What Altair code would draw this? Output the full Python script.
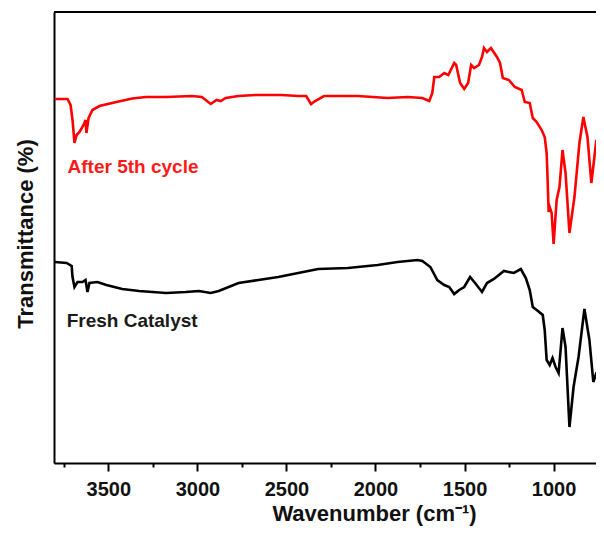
import altair as alt
import pandas as pd

# After 5th cycle (red)
red_wn = [3800, 3729, 3712, 3701, 3690, 3678, 3662, 3639, 3628, 3623, 3611, 3589, 3550, 3455, 3366,
          3288, 3176, 3031, 2975, 2925, 2892, 2869, 2841, 2769, 2674, 2529, 2434, 2389, 2362, 2339,
          2289, 2099, 1932, 1820, 1737, 1698, 1681, 1670, 1642, 1614, 1591, 1558, 1547, 1525, 1502,
          1480, 1463, 1446, 1419, 1402, 1391, 1374, 1352, 1318, 1301, 1285, 1251, 1218, 1179, 1162,
          1134, 1117, 1095, 1067, 1050, 1039, 1033, 1028, 1022, 1011, 1000, 983, 967, 950, 933,
          911, 883, 855, 833, 810, 788, 771, 760, 749, 738]
red_t = [364, 364, 358, 343, 320, 328, 331, 338, 343, 330, 345, 353, 357, 361, 364.5,
         366, 366, 367, 366, 359, 363, 362, 365, 367, 368, 368, 367, 367, 359, 362,
         367, 367, 365, 366, 365, 362, 370, 386, 386, 390, 388, 400, 398, 380, 374,
         380, 398, 395, 398, 406, 415, 411, 415, 406, 400, 385, 383, 376, 373, 361,
         360, 345, 341, 333, 326, 310, 280, 251, 256, 250, 219, 263, 276, 313, 290,
         230, 266, 320, 346, 326, 280, 306, 323, 300, 343]

# Fresh Catalyst (black)
black_wn = [3800, 3734, 3706, 3701, 3690, 3673, 3645, 3628, 3617, 3606, 3561, 3511, 3422, 3327, 3176,
            3065, 2992, 2925, 2880, 2769, 2657, 2546, 2434, 2322, 2155, 1988, 1876, 1764, 1737, 1692,
            1653, 1614, 1586, 1558, 1530, 1502, 1469, 1441, 1402, 1374, 1335, 1279, 1223, 1184, 1156,
            1134, 1117, 1095, 1061, 1050, 1039, 1022, 1006, 989, 972, 950, 933, 911, 888, 860,
            827, 799, 777, 760, 738]
black_t = [201, 200, 197, 186, 176, 181, 181, 183, 171, 180, 181, 178, 174, 172, 170,
           171, 172, 170, 172, 180, 183, 186, 190, 194, 195, 198, 201, 203, 202, 196,
           183, 178, 176, 169, 173, 176, 186, 180, 171, 180, 184, 192, 190, 194, 185,
           173, 156, 153, 148, 133, 103, 98, 105, 96, 90, 135, 116, 36, 76, 106,
           154, 123, 81, 90, 93]

series_names = ["After 5th cycle", "Fresh Catalyst"]
series_colors = ["#ff0000", "#000000"]
label_colors = ["#ff1a1a", "#1a1a1a"]
label_wn = [3729, 3734]
label_t = [290, 136]

tick_values = [3750, 3500, 3250, 3000, 2750, 2500, 2250, 2000, 1750, 1500, 1250, 1000]

df = pd.concat([
    pd.DataFrame({"wn": red_wn, "t": red_t, "series": series_names[0]}),
    pd.DataFrame({"wn": black_wn, "t": black_t, "series": series_names[1]}),
])
labels_df = pd.DataFrame({"wn": label_wn, "t": label_t, "text": series_names, "col": label_colors})

W, H = 542, 451
FONT = "Liberation Sans"

xscale = alt.Scale(domain=[3805, 762], nice=False, zero=False)
yscale = alt.Scale(domain=[0, 451], nice=False, zero=False)

xaxis = alt.Axis(
    values=tick_values, format="d",
    labelExpr="datum.value % 500 === 0 ? datum.label : ''",
    tickSize={"condition": {"test": "datum.value % 500 === 0", "value": 8}, "value": 4},
    tickWidth=2, tickColor="black", domainColor="black", domainWidth=2,
    labelFont=FONT, labelFontSize=20, labelFontWeight="bold", labelColor="#111111",
    labelBaseline="alphabetic", labelPadding=24, labelFlush=False, labelOverlap=False,
    grid=False,
    title="Wavenumber (cm⁻¹)", titleFont=FONT, titleFontSize=22, titleFontWeight="bold",
    titleColor="#111111", titleX=320, titleY=57, titleBaseline="alphabetic", titleAlign="center",
)
yaxis = alt.Axis(
    labels=False, ticks=False, grid=False, domainColor="black", domainWidth=2,
    title="Transmittance (%)", titleFont=FONT, titleFontSize=22, titleFontWeight="bold",
    titleColor="#111111", titleX=-22, titleY=221.5, titleBaseline="alphabetic",
    titleAlign="center", titleAngle=270,
)

lines = alt.Chart(df).mark_line(strokeWidth=2.6, clip=True).encode(
    x=alt.X("wn:Q", scale=xscale, axis=xaxis),
    y=alt.Y("t:Q", scale=yscale, axis=yaxis),
    color=alt.Color("series:N", scale=alt.Scale(domain=series_names, range=series_colors), legend=None),
    order=alt.Order("wn:Q", sort="descending"),
)

texts = alt.Chart(labels_df).mark_text(
    font=FONT, fontSize=19, fontWeight="bold", align="left", baseline="alphabetic"
).encode(
    x=alt.X("wn:Q", scale=xscale),
    y=alt.Y("t:Q", scale=yscale),
    text="text:N",
    color=alt.Color("col:N", scale=None),
)

top_border = alt.Chart(pd.DataFrame({"a": [0]})).mark_rule(color="black", strokeWidth=2).encode(
    x=alt.value(0), x2=alt.value(W), y=alt.value(0)
)

chart = alt.layer(lines, texts, top_border).properties(
    width=W, height=H,
    autosize=alt.AutoSizeParams(type="none"),
    padding={"left": 46, "top": 4, "right": 0, "bottom": 64},
).configure_view(stroke=None).configure(background="white")

chart.save("out.html", embed_options={"renderer": "svg", "actions": False})
